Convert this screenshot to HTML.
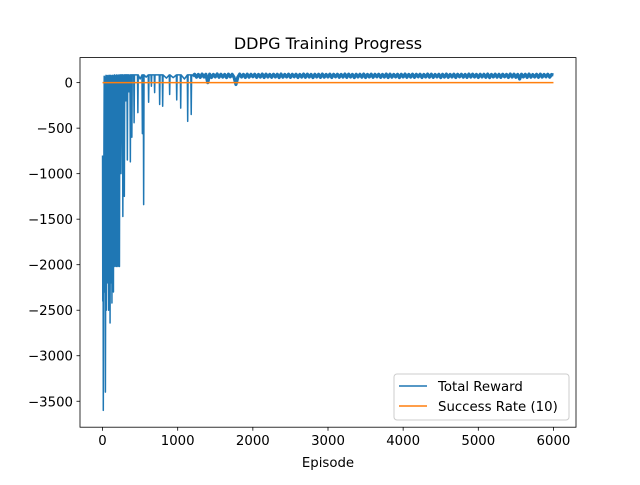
<!DOCTYPE html>
<html><head><meta charset="utf-8"><style>
body{margin:0;background:#fff;font-family:"Liberation Sans","DejaVu Sans",sans-serif}
svg text{font-family:"DejaVu Sans","Liberation Sans",sans-serif;fill:#000}
</style></head><body>
<svg id="chart" width="640" height="480" xmlns="http://www.w3.org/2000/svg">
<rect width="640" height="480" fill="#fff"/>
<text x="328" y="49" font-size="16" text-anchor="middle">DDPG Training Progress</text>
<g id="plot"></g>
<rect x="80" y="57.6" width="496" height="369.6" fill="none" stroke="#000" stroke-width="0.8"/>
<g id="ticks"></g>
<text x="328" y="467" font-size="13.3" text-anchor="middle">Episode</text>
<g>
<rect x="394" y="374" width="175" height="46" rx="3" fill="#fff" fill-opacity="0.8" stroke="#ccc" stroke-width="1"/>
<line x1="399" y1="386" x2="427" y2="386" stroke="#1f77b4" stroke-width="1.5"/>
<text x="438" y="391" font-size="13.3">Total Reward</text>
<line x1="399" y1="406" x2="427" y2="406" stroke="#ff7f0e" stroke-width="1.5"/>
<text x="438" y="411" font-size="13.3">Success Rate (10)</text>
</g>
</svg>
<script>
const earlyEpisodes=[0,3,6,10,14,18,22,26,30,34,38,42,46,50,55,60,65,70,75,80,85,90,95,100,105,110,115,120,125,130,135,140,145,150,155,160,165,170,175,180,185,190,195,200,205,210,215,220,225,230,235,240,245,250,255,
265,270,275,285,290,295,305,310,315,325,330,335,345,350,355,365,370,375,385,390,395,415,420,425,465,470,475,500,525,530,535,542,547,552,580,608,613,618,645,650,655,688,693,698,755,760,765,795,800,805,850,888,893,898,940,982,987,992,1035,1040,1045,1090,1128,1133,1138,1175,1180,1185,1200];
const earlyRewards=[-800,-2400,-1000,-3600,-2200,-800,70,-2300,-1500,60,-3400,-2000,80,-2500,-1200,75,-2200,-900,80,-2500,50,-1800,80,-2640,-1000,80,-2200,60,-2420,80,-1600,70,-2300,80,-2000,85,-2020,70,-1200,80,-2020,85,-900,80,-2020,80,-1500,85,-2020,80,-600,85,-1000,-300,85,
85,-1470,80,85,-1250,85,85,-200,85,85,-850,85,85,-100,80,85,-870,85,85,-600,85,85,-440,85,85,-330,85,40,85,-560,85,85,-1340,85,60,85,-215,85,85,-40,85,85,-110,85,85,-240,85,85,-260,85,50,85,-130,85,55,85,-190,85,85,-280,85,40,85,-425,85,85,-350,85,70];
const tailStart=1225, tailStep=25;
const tailRewards=[92,60,90,58,94,62,91,0,93,57,90,63,95,59,92,61,90,56,93,64,91,58,-20,60,94,62,90,57,93,60,91,65,92,58,90,61,94,57,93,62,
90,59,92,63,91,56,94,60,90,62,93,58,91,64,92,57,90,61,94,59,93,62,90,56,92,63,91,58,94,60,90,62,93,57,91,64,92,59,90,61,
94,58,93,62,90,56,92,63,91,60,94,57,90,62,93,59,91,64,92,58,90,61,94,57,93,60,90,63,92,56,91,62,94,59,90,61,93,58,91,64,
92,57,90,62,94,60,93,58,90,63,92,56,91,61,94,59,90,62,93,57,91,64,92,60,90,58,94,61,93,62,90,57,92,63,91,59,94,56,90,62,
93,60,91,58,92,64,90,57,94,61,93,59,90,40,92,62,91,58,94,60,88,62,91,59,93,61,90,64,92,60,89,85];
const successEpisodes=[0,6000];
const successRates=[0,0];
const xTicks=[0,1000,2000,3000,4000,5000,6000];
const yTicks=[0,-500,-1000,-1500,-2000,-2500,-3000,-3500];
const L=80,R=576,T=57.6,B=427.2,xmin=-300,xmax=6300,ymin=-3785,ymax=275;
function xs(v){return L+(v-xmin)/(xmax-xmin)*(R-L);}
function ys(v){return B-(v-ymin)/(ymax-ymin)*(B-T);}
const NS="http://www.w3.org/2000/svg";
const plot=document.getElementById('plot'),tk=document.getElementById('ticks');
let pts=[];
earlyEpisodes.forEach((e,i)=>pts.push(xs(e).toFixed(2)+','+ys(earlyRewards[i]).toFixed(2)));
const pl=document.createElementNS(NS,'polyline');


pl.setAttribute('points',pts.join(' '));
pl.setAttribute('fill','none');pl.setAttribute('stroke','#1f77b4');pl.setAttribute('stroke-width','1.5');pl.setAttribute('stroke-linejoin','round');
plot.appendChild(pl);
let tpts=[pts[pts.length-1]];
tailRewards.forEach((r,i)=>tpts.push(xs(tailStart+i*tailStep).toFixed(2)+','+ys(r).toFixed(2)));
const tl=document.createElementNS(NS,'polyline');


tl.setAttribute('points',tpts.join(' '));
tl.setAttribute('fill','none');tl.setAttribute('stroke','#1f77b4');tl.setAttribute('stroke-width','3.2');tl.setAttribute('stroke-linejoin','round');
plot.appendChild(tl);
const sl=document.createElementNS(NS,'polyline');


sl.setAttribute('points',successEpisodes.map((e,i)=>xs(e)+','+ys(successRates[i])).join(' '));
sl.setAttribute('fill','none');sl.setAttribute('stroke','#ff7f0e');sl.setAttribute('stroke-width','1.5');
plot.appendChild(sl);
xTicks.forEach(v=>{
  const x=xs(v);
  const l=document.createElementNS(NS,'line');
  
  
  l.setAttribute('x1',x);l.setAttribute('x2',x);l.setAttribute('y1',B);l.setAttribute('y2',B+3.5);l.setAttribute('stroke','#000');l.setAttribute('stroke-width','0.8');
  tk.appendChild(l);
  const t=document.createElementNS(NS,'text');
  
  
  t.setAttribute('x',x);t.setAttribute('y',B+18);t.setAttribute('font-size','13.3');t.setAttribute('text-anchor','middle');
  t.textContent=v;tk.appendChild(t);
});
yTicks.forEach(v=>{
  const y=ys(v);
  const l=document.createElementNS(NS,'line');
  
  
  l.setAttribute('x1',L-3.5);l.setAttribute('x2',L);l.setAttribute('y1',y);l.setAttribute('y2',y);l.setAttribute('stroke','#000');l.setAttribute('stroke-width','0.8');
  tk.appendChild(l);
  const t=document.createElementNS(NS,'text');
  
  
  t.setAttribute('x',L-7);t.setAttribute('y',y+5);t.setAttribute('font-size','13.3');t.setAttribute('text-anchor','end');
  t.textContent=v<0?'\u2212'+(-v):v;tk.appendChild(t);
});
</script>
</body></html>
